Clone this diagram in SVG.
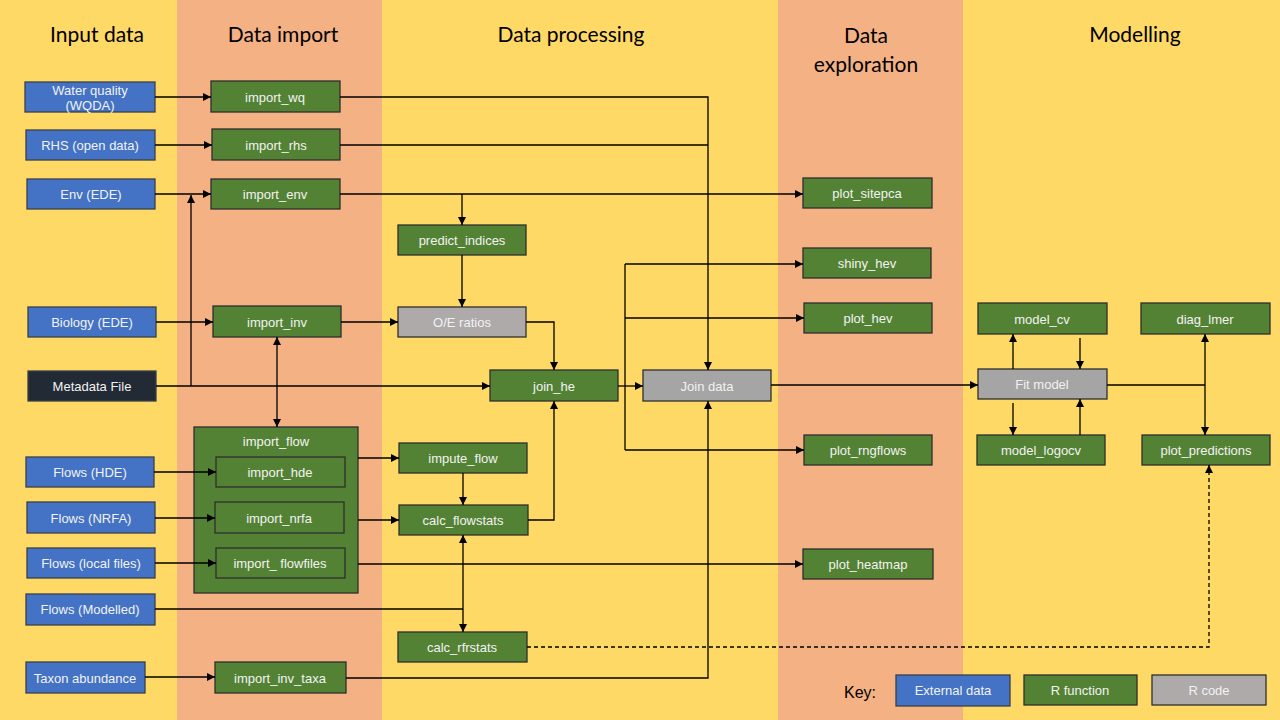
<svg xmlns="http://www.w3.org/2000/svg" width="1280" height="720" viewBox="0 0 1280 720">
<defs>
<marker id="ah" viewBox="0 0 10 10" refX="10" refY="5" markerWidth="8" markerHeight="8" markerUnits="userSpaceOnUse" orient="auto">
<path d="M0,0 L10,5 L0,10 z" fill="#000"/>
</marker>
<style>
.hdr{font-family:Lato,"Liberation Sans",sans-serif;font-size:21px;fill:#000;text-anchor:middle}
.lbl{font-family:"Liberation Sans",Arial,sans-serif;font-size:13px;fill:#F2F2F2;text-anchor:middle;dominant-baseline:central}
.ext{fill:#4472C4;stroke:#3A3F4A;stroke-width:1.3}
.fn{fill:#548235;stroke:#2E2E2E;stroke-width:1.3}
.code{fill:#A5A5A5;stroke:#2E2E2E;stroke-width:1.3}
.meta{fill:#222A35;stroke:#3A3F4A;stroke-width:1.3}
.c{fill:none;stroke:#000;stroke-width:1.3}
.a{fill:none;stroke:#000;stroke-width:1.3;marker-end:url(#ah)}
.d{fill:none;stroke:#000;stroke-width:1.3;stroke-dasharray:4 3;marker-end:url(#ah)}
</style>
</defs>
<g id="background">
<rect x="0" y="0" width="177" height="720" fill="#FFD966"/>
<rect x="177" y="0" width="205" height="720" fill="#F4B183"/>
<rect x="382" y="0" width="396" height="720" fill="#FFD966"/>
<rect x="778" y="0" width="185" height="720" fill="#F4B183"/>
<rect x="963" y="0" width="317" height="720" fill="#FFD966"/>
</g>
<g id="headers">
<text class="hdr" x="97" y="42">Input data</text>
<text class="hdr" x="283" y="42">Data import</text>
<text class="hdr" x="571" y="42">Data processing</text>
<text class="hdr" x="866" y="43">Data</text>
<text class="hdr" x="866" y="72">exploration</text>
<text class="hdr" x="1135" y="42">Modelling</text>
</g>
<g id="n-wqda"><rect class="ext" x="25" y="82" width="130" height="30"/><text class="lbl" x="90" y="90">Water quality</text><text class="lbl" x="90" y="105">(WQDA)</text></g>
<g id="n-rhs"><rect class="ext" x="26" y="130" width="129" height="30"/><text class="lbl" x="90" y="145">RHS (open data)</text></g>
<g id="n-env"><rect class="ext" x="27" y="179" width="128" height="30"/><text class="lbl" x="91" y="194">Env (EDE)</text></g>
<g id="n-bio"><rect class="ext" x="28" y="307" width="128" height="30"/><text class="lbl" x="92" y="322">Biology (EDE)</text></g>
<g id="n-meta"><rect class="meta" x="28" y="371" width="128" height="30"/><text class="lbl" x="92" y="386">Metadata File</text></g>
<g id="n-fhde"><rect class="ext" x="26" y="457" width="128" height="30"/><text class="lbl" x="90" y="472">Flows (HDE)</text></g>
<g id="n-fnrfa"><rect class="ext" x="27" y="502" width="128" height="31"/><text class="lbl" x="91" y="518">Flows (NRFA)</text></g>
<g id="n-flocal"><rect class="ext" x="27" y="548" width="128" height="30"/><text class="lbl" x="91" y="563">Flows (local files)</text></g>
<g id="n-fmod"><rect class="ext" x="26" y="594" width="129" height="31"/><text class="lbl" x="90" y="609">Flows (Modelled)</text></g>
<g id="n-taxon"><rect class="ext" x="26" y="662" width="119" height="31"/><text class="lbl" x="85" y="678">Taxon abundance</text></g>
<g id="n-import_wq"><rect class="fn" x="211" y="81" width="129" height="31"/><text class="lbl" x="275" y="97">import_wq</text></g>
<g id="n-import_rhs"><rect class="fn" x="212" y="129" width="128" height="31"/><text class="lbl" x="276" y="145">import_rhs</text></g>
<g id="n-import_env"><rect class="fn" x="211" y="179" width="129" height="30"/><text class="lbl" x="275" y="194">import_env</text></g>
<g id="n-import_inv"><rect class="fn" x="213" y="306" width="128" height="31"/><text class="lbl" x="277" y="322">import_inv</text></g>
<g id="n-import_flow"><rect class="fn" x="194" y="427" width="164" height="166"/><text class="lbl" x="276" y="441">import_flow</text>
<rect class="fn" x="216" y="457" width="129" height="30"/><text class="lbl" x="280" y="472">import_hde</text>
<rect class="fn" x="215" y="502" width="129" height="31"/><text class="lbl" x="279" y="518">import_nrfa</text>
<rect class="fn" x="216" y="548" width="129" height="30"/><text class="lbl" x="280" y="563">import_ flowfiles</text></g>
<g id="n-import_inv_taxa"><rect class="fn" x="215" y="662" width="131" height="31"/><text class="lbl" x="280" y="678">import_inv_taxa</text></g>
<g id="n-predict_indices"><rect class="fn" x="398" y="225" width="128" height="30"/><text class="lbl" x="462" y="240">predict_indices</text></g>
<g id="n-oe"><rect class="code" x="398" y="307" width="128" height="30" style="fill:#AEAAAA"/><text class="lbl" x="462" y="322">O/E ratios</text></g>
<g id="n-join_he"><rect class="fn" x="490" y="370" width="128" height="31"/><text class="lbl" x="554" y="386">join_he</text></g>
<g id="n-join_data"><rect class="code" x="643" y="370" width="128" height="31"/><text class="lbl" x="707" y="386">Join data</text></g>
<g id="n-impute_flow"><rect class="fn" x="399" y="443" width="128" height="30"/><text class="lbl" x="463" y="458">impute_flow</text></g>
<g id="n-calc_flowstats"><rect class="fn" x="399" y="505" width="129" height="30"/><text class="lbl" x="463" y="520">calc_flowstats</text></g>
<g id="n-calc_rfrstats"><rect class="fn" x="398" y="632" width="129" height="30"/><text class="lbl" x="462" y="647">calc_rfrstats</text></g>
<g id="n-plot_sitepca"><rect class="fn" x="803" y="178" width="129" height="30"/><text class="lbl" x="867" y="193">plot_sitepca</text></g>
<g id="n-shiny_hev"><rect class="fn" x="803" y="248" width="128" height="30"/><text class="lbl" x="867" y="263">shiny_hev</text></g>
<g id="n-plot_hev"><rect class="fn" x="804" y="303" width="128" height="30"/><text class="lbl" x="868" y="318">plot_hev</text></g>
<g id="n-plot_rngflows"><rect class="fn" x="804" y="435" width="128" height="30"/><text class="lbl" x="868" y="450">plot_rngflows</text></g>
<g id="n-plot_heatmap"><rect class="fn" x="803" y="549" width="130" height="30"/><text class="lbl" x="868" y="564">plot_heatmap</text></g>
<g id="n-model_cv"><rect class="fn" x="978" y="303" width="129" height="31"/><text class="lbl" x="1042" y="319">model_cv</text></g>
<g id="n-fit_model"><rect class="code" x="978" y="369" width="129" height="30"/><text class="lbl" x="1042" y="384">Fit model</text></g>
<g id="n-model_logocv"><rect class="fn" x="977" y="435" width="128" height="30"/><text class="lbl" x="1041" y="450">model_logocv</text></g>
<g id="n-diag_lmer"><rect class="fn" x="1141" y="303" width="129" height="31"/><text class="lbl" x="1205" y="319">diag_lmer</text></g>
<g id="n-plot_predictions"><rect class="fn" x="1142" y="435" width="128" height="30"/><text class="lbl" x="1206" y="450">plot_predictions</text></g>
<g id="key">
<text x="860" y="698" style="font-family:'Liberation Sans',Arial,sans-serif;font-size:16px;fill:#000;text-anchor:middle">Key:</text>
<rect class="ext" x="896" y="675" width="114" height="31"/><text class="lbl" x="953" y="690">External data</text>
<rect class="fn" x="1024" y="675" width="113" height="30"/><text class="lbl" x="1080" y="690">R function</text>
<rect class="code" x="1152" y="675" width="114" height="30" style="fill:#AEAAAA"/><text class="lbl" x="1209" y="690">R code</text>
</g>
<g id="connectors">
<path class="a" d="M155,97 H211"/>
<path class="a" d="M155,145 H212"/>
<path class="a" d="M155,194 H211"/>
<path class="a" d="M156,322 H213"/>
<path class="a" d="M156,386 H490"/>
<path class="a" d="M191,386 V195"/>
<path class="a" d="M277,386 V337"/>
<path class="a" d="M277,386 V427"/>
<path class="a" d="M340,97 H708 V370"/>
<path class="c" d="M340,145 H708"/>
<path class="a" d="M340,194 H803"/>
<path class="a" d="M462,194 V225"/>
<path class="a" d="M462,255 V307"/>
<path class="a" d="M341,322 H398"/>
<path class="a" d="M526,322 H554 V370"/>
<path class="a" d="M618,386 H643"/>
<path class="c" d="M625,264 V450"/>
<path class="a" d="M625,264 H803"/>
<path class="a" d="M625,318 H804"/>
<path class="a" d="M625,450 H804"/>
<path class="a" d="M771,385 H978"/>
<path class="a" d="M358,458 H399"/>
<path class="a" d="M358,520 H399"/>
<path class="a" d="M463,473 V505"/>
<path class="a" d="M528,520 H554 V401"/>
<path class="a" d="M358,564 H803"/>
<path class="c" d="M155,609 H463"/>
<path class="a" d="M463,609 V535"/>
<path class="a" d="M463,609 V632"/>
<path class="a" d="M154,472 H216"/>
<path class="a" d="M155,518 H215"/>
<path class="a" d="M155,563 H216"/>
<path class="a" d="M145,677 H215"/>
<path class="a" d="M346,678 H708 V401"/>
<path class="d" d="M527,647 H1209 V465"/>
<path class="a" d="M1013,369 V334"/>
<path class="a" d="M1080,338 V369"/>
<path class="a" d="M1013,403 V435"/>
<path class="a" d="M1080,435 V399"/>
<path class="c" d="M1107,385 H1205"/>
<path class="a" d="M1205,385 V334"/>
<path class="a" d="M1205,385 V435"/>
</g>
</svg>
